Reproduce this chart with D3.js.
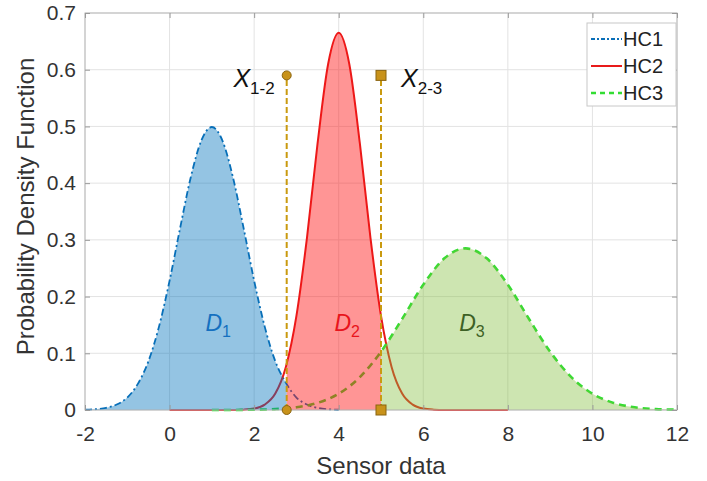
<!DOCTYPE html>
<html lang="en">
<head>
<meta charset="UTF-8">
<title>PDF of sensor data</title>
<script src="https://d3js.org/d3.v7.min.js"></script>
<style>
  body { margin: 0; background: #fff; }
  svg text { font-family: "Liberation Sans", Arial, sans-serif; }
</style>
</head>
<body>
<svg id="chart"></svg>
<script>
// values
const xTicks = [-2, 0, 2, 4, 6, 8, 10, 12];
const yTicks = [0, 0.1, 0.2, 0.3, 0.4, 0.5, 0.6, 0.7];

const hc1X = [-2, -1.75, -1.5, -1.25, -1, -0.75, -0.5, -0.25, 0, 0.25, 0.5, 0.75, 1, 1.25, 1.5, 1.75, 2, 2.25, 2.5, 2.75, 3, 3.25, 3.5, 3.75, 4];
const hc1Y = [0.0004, 0.0014, 0.0038, 0.0096, 0.022, 0.046, 0.086, 0.147, 0.228, 0.321, 0.41, 0.475, 0.499, 0.475, 0.41, 0.321, 0.228, 0.147, 0.086, 0.048, 0.022, 0.0096, 0.0038, 0.0014, 0.0004];

const hc2X = [0, 0.5, 1, 1.5, 1.75, 2, 2.25, 2.5, 2.75, 3, 3.25, 3.5, 3.75, 4, 4.25, 4.5, 4.75, 5, 5.25, 5.5, 5.75, 6, 6.25, 6.5, 7, 7.5, 8];
const hc2Y = [0, 0, 0, 0, 0.0006, 0.0026, 0.0095, 0.029, 0.076, 0.166, 0.304, 0.47, 0.61, 0.665, 0.61, 0.47, 0.304, 0.166, 0.076, 0.029, 0.0095, 0.0026, 0.0006, 0, 0, 0, 0];

const hc3X = [1, 1.5, 2, 2.5, 3, 3.5, 4, 4.5, 5, 5.5, 6, 6.5, 7, 7.5, 8, 8.5, 9, 9.5, 10, 10.5, 11, 11.5, 12];
const hc3Y = [0, 0.0001, 0.0005, 0.0016, 0.0048, 0.0125, 0.0287, 0.0579, 0.1027, 0.1605, 0.2208, 0.2674, 0.285, 0.2674, 0.2208, 0.1605, 0.1027, 0.0579, 0.0287, 0.0125, 0.0048, 0.0016, 0.0005];

// thresholds between classes and the height of their marker lines
const thresholds = [2.77, 5.0];
const thresholdTop = 0.59;
const thresholdNames = ["1-2", "2-3"];

const regionNames = ["1", "2", "3"];
const regionLabelX = [1.15, 4.2, 7.15];
const regionLabelY = 0.14;

const width = 707, height = 481;
const mLeft = 85, mRight = 677, mTop = 13, mBottom = 410;

const svg = d3.select("#chart").attr("width", width).attr("height", height);

const x = d3.scaleLinear().domain([-2, 12]).range([mLeft, mRight]);
const y = d3.scaleLinear().domain([0, 0.7]).range([mBottom, mTop]);

const series = [
  { name: "HC1", xs: hc1X, ys: hc1Y, line: "#0a6fb8", dash: "7,3,2,3", lw: 1.8, fill: "rgba(0,114,189,0.42)", text: "#1470c0" },
  { name: "HC2", xs: hc2X, ys: hc2Y, line: "#e81a1a", dash: null, lw: 2, fill: "rgba(255,20,20,0.45)", text: "#e8141c" },
  { name: "HC3", xs: hc3X, ys: hc3Y, line: "#33dd33", dash: "7,5", lw: 2.6, fill: "rgba(130,190,60,0.4)", text: "#3d6125" }
];
series.forEach(s => s.pts = s.xs.map((v, i) => [v, s.ys[i]]));

// grid
const grid = svg.append("g");
grid.selectAll(".gx").data(xTicks).enter().append("line")
  .attr("x1", d => x(d)).attr("x2", d => x(d)).attr("y1", mTop).attr("y2", mBottom)
  .attr("stroke", "#e3e3e3").attr("stroke-width", 1);
grid.selectAll(".gy").data(yTicks).enter().append("line")
  .attr("x1", mLeft).attr("x2", mRight).attr("y1", d => y(d)).attr("y2", d => y(d))
  .attr("stroke", "#e3e3e3").attr("stroke-width", 1);

// clip regions for the filled parts
const bounds = [-2, thresholds[0], thresholds[1], 12];
const defs = svg.append("defs");
series.forEach((s, i) => {
  defs.append("clipPath").attr("id", "clip" + i).append("rect")
    .attr("x", x(bounds[i])).attr("y", mTop)
    .attr("width", x(bounds[i + 1]) - x(bounds[i])).attr("height", mBottom - mTop);
});

const line = d3.line().x(d => x(d[0])).y(d => y(d[1])).curve(d3.curveMonotoneX);
const area = d3.area().x(d => x(d[0])).y0(y(0)).y1(d => y(d[1])).curve(d3.curveMonotoneX);

// lines first, fills drawn over them (as in the picture)
series.forEach(s => {
  svg.append("path").datum(s.pts)
    .attr("d", line).attr("fill", "none")
    .attr("stroke", s.line).attr("stroke-width", s.lw)
    .attr("stroke-dasharray", s.dash);
});
series.forEach((s, i) => {
  svg.append("path").datum(s.pts)
    .attr("d", area).attr("fill", s.fill)
    .attr("clip-path", `url(#clip${i})`);
});

// frame + ticks
svg.append("rect").attr("x", mLeft).attr("y", mTop)
  .attr("width", mRight - mLeft).attr("height", mBottom - mTop)
  .attr("fill", "none").attr("stroke", "#b8b8b8").attr("stroke-width", 1);

const axB = svg.append("g").attr("transform", `translate(0,${mBottom})`)
  .call(d3.axisBottom(x).tickValues(xTicks).tickSize(-5).tickPadding(12).tickFormat(d => String(d)));
const axL = svg.append("g").attr("transform", `translate(${mLeft},0)`)
  .call(d3.axisLeft(y).tickValues(yTicks).tickSize(-5).tickPadding(9).tickFormat(d => d === 0 ? "0" : d3.format(".1f")(d)));
const axT = svg.append("g").attr("transform", `translate(0,${mTop})`)
  .call(d3.axisTop(x).tickValues(xTicks).tickSize(-5).tickFormat(""));
const axR = svg.append("g").attr("transform", `translate(${mRight},0)`)
  .call(d3.axisRight(y).tickValues(yTicks).tickSize(-5).tickFormat(""));
[axB, axL, axT, axR].forEach(g => {
  g.select(".domain").remove();
  g.selectAll("line").attr("stroke", "#9a9a9a");
  g.selectAll("text").attr("fill", "#333").attr("font-size", 21);
});
axB.selectAll("text").attr("dy", "0.9em");

// threshold lines and markers
const gold = "#c99a10";
thresholds.forEach((t, i) => {
  svg.append("line")
    .attr("x1", x(t)).attr("x2", x(t)).attr("y1", y(0)).attr("y2", y(thresholdTop))
    .attr("stroke", gold).attr("stroke-width", 2).attr("stroke-dasharray", "6,3");
  [0, thresholdTop].forEach(v => {
    if (i === 0) {
      svg.append("circle").attr("cx", x(t)).attr("cy", y(v)).attr("r", 4.5)
        .attr("fill", "#c8921a").attr("stroke", "#8a6410").attr("stroke-width", 1);
    } else {
      svg.append("rect").attr("x", x(t) - 5).attr("y", y(v) - 5).attr("width", 10).attr("height", 10)
        .attr("fill", "#c8921a").attr("stroke", "#8a6410").attr("stroke-width", 1);
    }
  });
  const lab = svg.append("text")
    .attr("y", y(thresholdTop) + 12)
    .attr("font-size", 25).attr("fill", "#111");
  lab.append("tspan").attr("font-style", "italic").text("X");
  lab.append("tspan").attr("font-size", 17).attr("dy", 7).text(thresholdNames[i]);
  if (i === 0) lab.attr("x", x(t) - 12).attr("text-anchor", "end");
  else lab.attr("x", x(t) + 20).attr("text-anchor", "start");
});

// region labels
series.forEach((s, i) => {
  const t = svg.append("text")
    .attr("x", x(regionLabelX[i])).attr("y", y(regionLabelY))
    .attr("text-anchor", "middle").attr("fill", s.text).attr("font-size", 23);
  t.append("tspan").attr("font-style", "italic").text("D");
  t.append("tspan").attr("font-size", 16).attr("dy", 6).text(regionNames[i]);
});

// axis titles
svg.append("text").attr("x", (mLeft + mRight) / 2).attr("y", 474)
  .attr("text-anchor", "middle").attr("font-size", 24).attr("fill", "#333")
  .text("Sensor data");
svg.append("text")
  .attr("transform", `translate(34,${(mTop + mBottom) / 2 - 5}) rotate(-90)`)
  .attr("text-anchor", "middle").attr("font-size", 24).attr("fill", "#333")
  .text("Probability Density Function");

// legend
const lg = svg.append("g");
lg.append("rect").attr("x", 587).attr("y", 23).attr("width", 89).attr("height", 83)
  .attr("fill", "#fff").attr("stroke", "#c8c8c8").attr("stroke-width", 1);
series.forEach((s, i) => {
  const cy = 39 + i * 27;
  lg.append("line").attr("x1", 591).attr("x2", 622).attr("y1", cy).attr("y2", cy)
    .attr("stroke", s.line).attr("stroke-width", s.lw)
    .attr("stroke-dasharray", s.dash === null ? null : (i === 0 ? "4,2,2,2" : "5,4"));
  lg.append("text").attr("x", 623).attr("y", cy + 7)
    .attr("font-size", 20).attr("fill", "#222").text(s.name);
});
</script>
</body>
</html>
